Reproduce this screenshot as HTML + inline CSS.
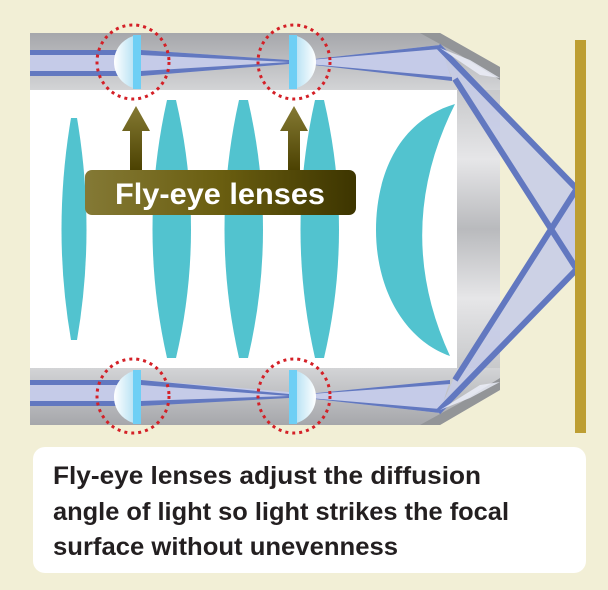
<!DOCTYPE html>
<html><head><style>
html,body{margin:0;padding:0;background:#f2efd6;}
svg{display:block;}
</style></head><body>
<svg width="608" height="590" viewBox="0 0 608 590" xmlns="http://www.w3.org/2000/svg">
<defs>
<linearGradient id="gt" x1="0" y1="0" x2="0" y2="1"><stop offset="0" stop-color="#a6a7ab"/><stop offset="1" stop-color="#d3d4d6"/></linearGradient>
<linearGradient id="gb" x1="0" y1="0" x2="0" y2="1"><stop offset="0" stop-color="#d3d4d6"/><stop offset="1" stop-color="#a6a7ab"/></linearGradient>
<linearGradient id="gr" x1="0" y1="0" x2="0" y2="1"><stop offset="0" stop-color="#c8c9cb"/><stop offset="0.25" stop-color="#e6e6e8"/><stop offset="0.5" stop-color="#b9babd"/><stop offset="0.75" stop-color="#e6e6e8"/><stop offset="1" stop-color="#c8c9cb"/></linearGradient>
<linearGradient id="lab" x1="0" y1="0" x2="1" y2="0"><stop offset="0" stop-color="#847935"/><stop offset="0.5" stop-color="#6a5e10"/><stop offset="1" stop-color="#3d3500"/></linearGradient>
<linearGradient id="arr" x1="0" y1="0" x2="0" y2="1"><stop offset="0" stop-color="#857a33"/><stop offset="1" stop-color="#4a4000"/></linearGradient>
<linearGradient id="lensL" x1="0" y1="0" x2="1" y2="0"><stop offset="0" stop-color="#ffffff"/><stop offset="1" stop-color="#9fd8f0"/></linearGradient>
<linearGradient id="lensR" x1="1" y1="0" x2="0" y2="0"><stop offset="0" stop-color="#ffffff"/><stop offset="1" stop-color="#9fd8f0"/></linearGradient>
</defs>
<!-- body -->
<polygon points="30,33 440,33 500,67 500,90 30,90" fill="url(#gt)"/>
<polygon points="420,33 440,33 500,67 500,80 460,55" fill="#939598"/>
<rect x="457" y="90" width="43" height="278" fill="url(#gr)"/>
<polygon points="30,368 500,368 500,390 440,425 30,425" fill="url(#gb)"/>
<polygon points="500,378 500,390 440,425 420,425 460,403" fill="#939598"/>
<rect x="30" y="90" width="427" height="278" fill="#ffffff"/>
<!-- teal lenses -->
<g fill="#52c3cf">
<path d="M71,118 L77,118 Q96,230 77,340 L71,340 Q52,230 71,118Z"/>
<path d="M167,100 L176,100 Q206,230 176,358 L167,358 Q138,230 167,100Z"/>
<path d="M239,100 L248,100 Q278,230 248,358 L239,358 Q210,230 239,100Z"/>
<path d="M315,100 L324,100 Q354,230 324,358 L315,358 Q286,230 315,100Z"/>
<path d="M455,104 C395,122 376,180 376,230 C376,290 405,340 450,356 Q392,230 455,104Z"/>
</g>
<!-- top beam -->
<g>
<polygon points="30,50 141,50 289,60 289,64 141,76 30,76" fill="#c5cbe8"/>
<polygon points="297,61 440,45 452,80 297,63" fill="#c5cbe8"/>
<rect x="30" y="50" width="105" height="5" fill="#6278c0"/>
<rect x="30" y="71" width="105" height="5" fill="#6278c0"/>
<polygon points="141,50 289,60 289,62 141,55" fill="#6278c0"/>
<polygon points="141,71 289,62 289,64 141,76" fill="#6278c0"/>
<polygon points="297,61 440,45 440,49" fill="#6278c0"/>
<polygon points="297,63 452,77 452,81" fill="#6278c0"/>
</g>
<g>
<polygon points="30,380 141,380 289,392 289,396 141,406 30,406" fill="#c5cbe8"/>
<polygon points="297,395 450,380 440,413 297,397" fill="#c5cbe8"/>
<rect x="30" y="380" width="105" height="5" fill="#6278c0"/>
<rect x="30" y="401" width="105" height="5" fill="#6278c0"/>
<polygon points="141,380 289,394 289,396 141,385" fill="#6278c0"/>
<polygon points="141,401 289,396 289,398 141,406" fill="#6278c0"/>
<polygon points="297,395 450,380 450,384" fill="#6278c0"/>
<polygon points="297,397 440,409 440,413" fill="#6278c0"/>
</g>
<!-- reflected bands -->
<g fill="#c5cbe8" fill-opacity="0.85">
<polygon points="438,45 576,188 576,268 453,80"/>
<polygon points="453,380 576,190 576,270 438,413"/>
</g>
<g stroke="#6278c0" stroke-width="6">
<line x1="438" y1="46" x2="576" y2="188"/>
<line x1="455" y1="79" x2="576" y2="268"/>
<line x1="455" y1="380" x2="576" y2="190"/>
<line x1="438" y1="412" x2="576" y2="270"/>
</g>
<polygon points="440,48 470,60 500,78 480,75" fill="#eef0fb" opacity="0.8"/>
<polygon points="440,410 470,398 500,382 480,385" fill="#eef0fb" opacity="0.8"/>
<rect x="575" y="40" width="11" height="393" fill="#bd9e33"/>
<!-- fly-eye lenses -->
<g>
<path d="M141,35 A27,27 0 0 0 141,89 Z" fill="url(#lensL)"/>
<rect x="133" y="35" width="8" height="54" fill="#6ecff5"/>
<path d="M289,35 A27,27 0 0 1 289,89 Z" fill="url(#lensR)"/>
<rect x="289" y="35" width="8" height="54" fill="#6ecff5"/>
<path d="M141,370 A27,27 0 0 0 141,424 Z" fill="url(#lensL)"/>
<rect x="133" y="370" width="8" height="54" fill="#6ecff5"/>
<path d="M289,370 A27,27 0 0 1 289,424 Z" fill="url(#lensR)"/>
<rect x="289" y="370" width="8" height="54" fill="#6ecff5"/>
</g>
<g fill="none" stroke="#d42027" stroke-width="3" stroke-dasharray="3,4">
<ellipse cx="133" cy="62" rx="36" ry="37"/>
<ellipse cx="294" cy="62" rx="36" ry="37"/>
<ellipse cx="133" cy="396" rx="36" ry="37"/>
<ellipse cx="294" cy="396" rx="36" ry="37"/>
</g>
<!-- arrows -->
<polygon points="136,106 150,131 142,131 142,172 130,172 130,131 122,131" fill="url(#arr)"/>
<polygon points="294,106 308,131 300,131 300,172 288,172 288,131 280,131" fill="url(#arr)"/>
<rect x="85" y="170" width="271" height="45" rx="7" fill="url(#lab)"/>
<text x="220" y="204" text-anchor="middle" font-family="Liberation Sans Narrow, Liberation Sans, sans-serif" font-weight="bold" font-size="30" fill="#ffffff" textLength="210" lengthAdjust="spacingAndGlyphs">Fly-eye lenses</text>
<!-- caption -->
<rect x="33" y="447" width="553" height="126" rx="12" fill="#ffffff"/>
<g font-family="Liberation Sans, sans-serif" font-weight="bold" font-size="25" fill="#231f20">
<text x="53" y="484" textLength="428" lengthAdjust="spacingAndGlyphs">Fly-eye lenses adjust the diffusion</text>
<text x="53" y="520" textLength="456" lengthAdjust="spacingAndGlyphs">angle of light so light strikes the focal</text>
<text x="53" y="555" textLength="345" lengthAdjust="spacingAndGlyphs">surface without unevenness</text>
</g>
</svg>
</body></html>
